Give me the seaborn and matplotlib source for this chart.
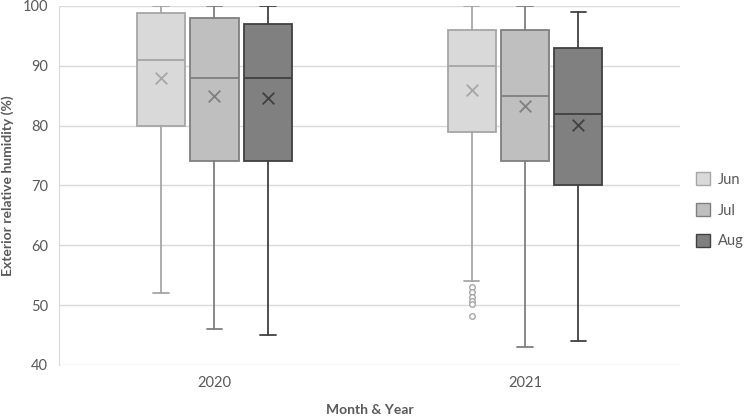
import numpy as np
import matplotlib
matplotlib.use("Agg")
import matplotlib.pyplot as plt
from matplotlib.patches import Patch
import seaborn as sns

years = ["2020", "2021"]
months = ["Jun", "Jul", "Aug"]

# box statistics, order: 2020 Jun/Jul/Aug, 2021 Jun/Jul/Aug
whis_low = [52, 46, 45, 54, 43, 44]
q1 = [80, 74, 74, 79, 74, 70]
median = [91, 88, 88, 90, 85, 82]
q3 = [98.8, 98, 97, 96, 96, 93]
whis_high = [100, 100, 100, 100, 100, 99]
means = [88, 85, 84.6, 86, 83.3, 80.1]
fliers = [[], [], [], [53, 52.2, 51.4, 50.6, 50.1, 48.2], [], []]

fills = ["#d9d9d9", "#bfbfbf", "#808080"]
edges = ["#a6a6a6", "#7f7f7f", "#404040"]
txt = "#595959"

sns.set_style("white")
plt.rcParams["font.family"] = ["Lato", "DejaVu Sans"]

fig = plt.figure(figsize=(7.5, 4.18), dpi=100)
ax = fig.add_axes([0.079, 0.127, 0.828, 0.859])

offsets = [-0.172, 0.0, 0.172]
for i in range(len(years)):
    for j in range(len(months)):
        k = i * len(months) + j
        st = dict(med=median[k], q1=q1[k], q3=q3[k], whislo=whis_low[k],
                  whishi=whis_high[k], fliers=fliers[k], mean=means[k])
        pos = i + offsets[j]
        ec = edges[j]
        ax.bxp([st], positions=[pos], widths=0.155, capwidths=0.05,
               patch_artist=True, showmeans=False, manage_ticks=False,
               boxprops=dict(facecolor=fills[j], edgecolor=ec, linewidth=1.3),
               medianprops=dict(color=ec, linewidth=1.3),
               whiskerprops=dict(color=ec, linewidth=1.3),
               capprops=dict(color=ec, linewidth=1.3),
               flierprops=dict(marker="o", markersize=4, markerfacecolor="white",
                               markeredgecolor=ec, markeredgewidth=1))
        sns.scatterplot(x=[pos], y=[means[k]], marker="x", s=70, color=ec,
                        linewidth=1.3, ax=ax, zorder=5)

ax.set_xlim(-0.5, 1.5)
ax.set_ylim(40, 100)
ax.set_yticks(np.arange(40, 101, 10))
ax.set_xticks(range(len(years)))
ax.set_xticklabels(years)
ax.yaxis.grid(True, color="#d9d9d9", linewidth=1)
ax.set_axisbelow(True)
for s in ["top", "right", "bottom"]:
    ax.spines[s].set_visible(False)
ax.spines["left"].set_color("#d9d9d9")
ax.tick_params(axis="both", length=0, labelsize=10.5, colors=txt, pad=8)
ax.set_ylabel("Exterior relative humidity (%)", fontsize=10, fontweight="bold",
              color=txt, labelpad=6)
ax.set_xlabel("Month & Year", fontsize=10, fontweight="bold", color=txt, labelpad=10)

handles = [Patch(facecolor=fills[j], edgecolor=edges[j], label=months[j])
           for j in range(len(months))]
fig.legend(handles=handles, loc="center left", bbox_to_anchor=(0.91, 0.497),
           frameon=False, fontsize=10.5, labelcolor=txt, handlelength=1.0,
           handleheight=1.0, labelspacing=1.1, handletextpad=0.5)

fig.savefig("out.png", dpi=100)
